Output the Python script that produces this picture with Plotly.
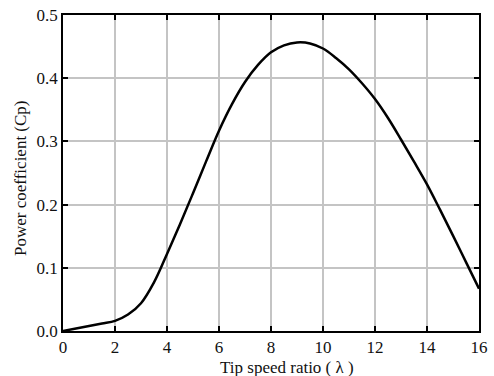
import plotly.graph_objects as go

tsr = [0, 0.5, 1, 1.5, 2, 2.5, 3, 3.5, 4, 4.5, 5, 5.5, 6, 6.5, 7, 7.5, 8, 8.5, 9, 9.5,
       10, 10.5, 11, 11.5, 12, 12.5, 13, 13.5, 14, 14.5, 15, 15.5, 16]
cp = [0, 0.004, 0.008, 0.012, 0.016, 0.026, 0.044, 0.077, 0.122, 0.169, 0.218, 0.268,
      0.317, 0.359, 0.394, 0.421, 0.441, 0.452, 0.4565, 0.455, 0.447, 0.432, 0.414,
      0.392, 0.367, 0.337, 0.303, 0.268, 0.232, 0.192, 0.151, 0.109, 0.067]

x_ticks = [0, 2, 4, 6, 8, 10, 12, 14, 16]
y_ticks = [0.0, 0.1, 0.2, 0.3, 0.4, 0.5]

fig = go.Figure()
fig.add_trace(go.Scatter(x=tsr, y=cp, mode="lines",
                         line=dict(color="black", width=2.5, shape="spline", smoothing=1.0),
                         showlegend=False))

font = dict(family="Liberation Serif, Times New Roman, serif", size=17, color="#111")
axis_common = dict(showline=True, linecolor="black", linewidth=1.5, mirror="ticks",
                   ticks="inside", ticklen=5, tickwidth=1.5, tickcolor="black",
                   showgrid=True, gridcolor="#c4c4c4", gridwidth=1.5, zeroline=False,
                   tickfont=font, ticklabeloverflow="allow")
fig.update_layout(
    width=494, height=376,
    margin=dict(l=63, r=6, t=15, b=45),
    paper_bgcolor="white", plot_bgcolor="white",
    font=font,
    xaxis=dict(range=[0, 16], tickvals=x_ticks, **axis_common),
    yaxis=dict(range=[0, 0.5], tickvals=y_ticks, tickformat=".1f", **axis_common),
    annotations=[
        dict(text="Tip speed ratio ( λ )", xref="paper", yref="paper",
             x=(292 - 63) / 425, y=-(367 - 331) / 316, xanchor="center", yanchor="middle",
             showarrow=False, font=font),
        dict(text="Power coefficient (Cp)", xref="paper", yref="paper",
             x=-(63 - 19) / 425, y=(331 - 178) / 316, xanchor="center", yanchor="middle",
             textangle=-90, showarrow=False, font=font),
    ],
)
fig.write_html("out.html")
